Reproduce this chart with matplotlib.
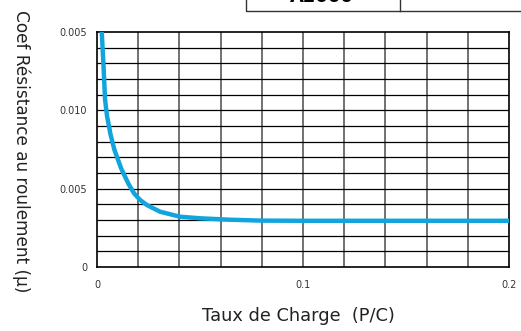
import matplotlib
matplotlib.use("Agg")
import matplotlib.pyplot as plt
from matplotlib.patches import Rectangle
from matplotlib.lines import Line2D

# curve
taux = [0.0023, 0.0031, 0.0039, 0.0049, 0.0058, 0.0065, 0.0084, 0.0117, 0.0153, 0.0180,
        0.0209, 0.0243, 0.0306, 0.0403, 0.0500, 0.0640, 0.0800, 0.1000, 0.1500, 0.2000]
coef = [0.0150, 0.0130, 0.0107, 0.0096, 0.0090, 0.0085, 0.0075, 0.0063, 0.0053, 0.0047,
        0.00428, 0.00395, 0.00353, 0.00321, 0.00311, 0.00302, 0.00296, 0.00295, 0.00295, 0.00295]

x_ticks = [0, 0.1, 0.2]
x_labels = ["0", "0.1", "0.2"]
y_ticks = [0, 0.005, 0.010, 0.015]
y_labels = ["0", "0.005", "0.010", "0.005"]
table_text = "A2000"

W, H = 521, 331
fig = plt.figure(figsize=(W / 100, H / 100), dpi=100)
ax = fig.add_axes([97 / W, 1 - 267 / H, 412 / W, 235 / H])

# grid: 10 columns, 15 rows
for i in range(1, 10):
    ax.axvline(i * 0.02, color="#666666", lw=1.3, zorder=1)
for j in range(1, 15):
    ax.axhline(j * 0.001, color="black", lw=0.9, zorder=1)

ax.plot(taux, coef, color="#12a5dd", lw=3.2, solid_capstyle="butt",
        solid_joinstyle="round", zorder=3)

ax.set_xlim(0, 0.2)
ax.set_ylim(0, 0.015)
ax.set_xticks(x_ticks)
ax.set_xticklabels(x_labels)
ax.set_yticks(y_ticks)
ax.set_yticklabels(y_labels)
ax.tick_params(length=0, labelsize=7, labelcolor="#333333")
ax.tick_params(axis="x", pad=9)
ax.tick_params(axis="y", pad=7)
for s in ax.spines.values():
    s.set_color("black")
    s.set_linewidth(1.2)

fig.text(298 / W, 1 - 316 / H, "Taux de Charge  (P/C)", ha="center", va="center",
         fontsize=12.8, color="#222222")
fig.text(21 / W, 1 - 151 / H, "Coef Résistance au roulement (µ)", ha="center", va="center",
         rotation=270, fontsize=12.2, color="#222222")

# cut-off table at the top
fig.patches.append(Rectangle((246 / W, 1 - 10.5 / H), 300 / W, 20 / H,
                             transform=fig.transFigure, fill=False, ec="#333333", lw=1))
fig.lines.append(Line2D([400 / W, 400 / W], [1 - 10.5 / H, 1.0],
                        transform=fig.transFigure, color="#333333", lw=1))
fig.text(322 / W, 1 - 1.5 / H, table_text, ha="center", va="baseline",
         fontsize=13, fontweight="bold", color="black")

fig.savefig("out.png", dpi=100)
